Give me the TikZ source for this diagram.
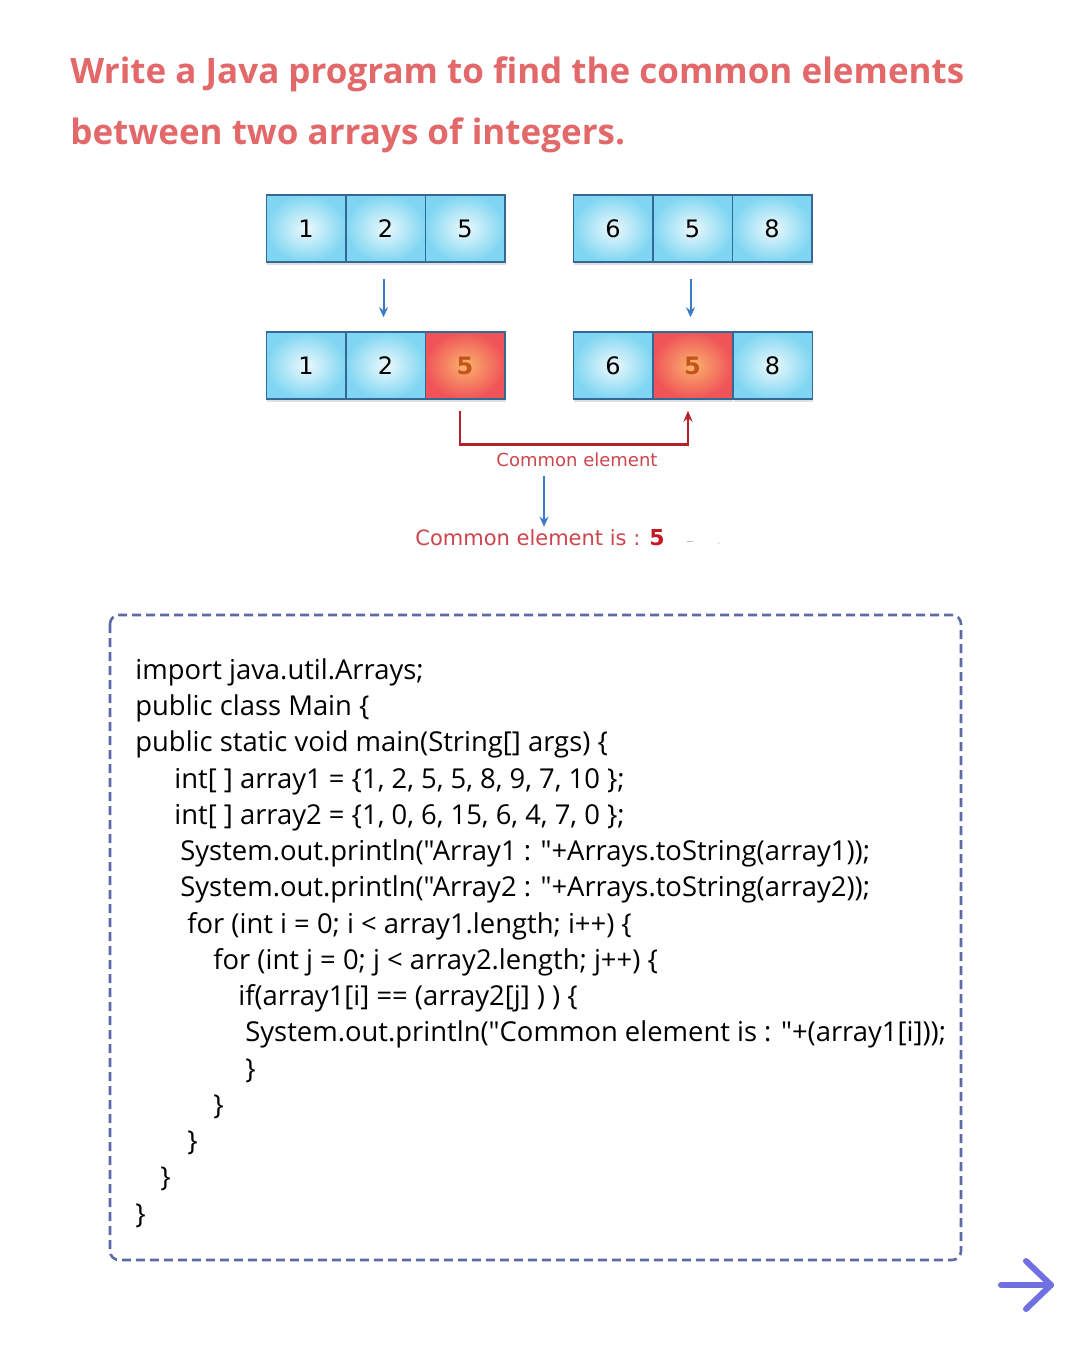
\documentclass[tikz,border=0pt]{standalone}
\usepackage{fontspec}
\setmainfont{Open Sans}
\newfontfamily\cellfont{DejaVu Sans}
\newfontfamily\codefont{Open Sans}
\usetikzlibrary{arrows.meta,shadows}
\definecolor{titlered}{RGB}{226,104,106}
\definecolor{cellblue}{RGB}{128,214,242}
\definecolor{celledge}{RGB}{52,104,150}
\definecolor{hotred}{RGB}{240,84,88}
\definecolor{hotorange}{RGB}{250,178,110}
\definecolor{fivebrown}{RGB}{196,84,24}
\definecolor{flowblue}{RGB}{58,124,200}
\definecolor{linkred}{RGB}{182,32,42}
\definecolor{labelred}{RGB}{206,68,76}
\definecolor{boxslate}{RGB}{92,106,168}
\definecolor{nextblue}{RGB}{112,112,226}
\tikzset{every picture/.style={line width=0.75pt}}
\tikzset{
  cell/.style={draw=celledge, line width=1.5pt, inner color=white!85!cellblue, outer color=cellblue,
    minimum width=79.5pt, minimum height=67pt, inner sep=0pt, font=\cellfont\fontsize{24}{24}\selectfont,
    drop shadow={opacity=0.25, shadow xshift=1pt, shadow yshift=-3pt}},
  hotcell/.style={cell, inner color=hotorange, outer color=hotred, text=fivebrown,
    font=\cellfont\bfseries\fontsize{24}{24}\selectfont},
  flow/.style={draw=flowblue, line width=2pt, -{Stealth[length=10pt,width=9pt]}},
  codeline/.style={anchor=base west, inner sep=0pt, font=\codefont\fontsize{27.4}{27.4}\selectfont}
}
\begin{document}
\begin{tikzpicture}[x=1pt,y=1pt,yscale=-1,xscale=1]
\useasboundingbox (0,0) rectangle (1080,1345);
% title
\draw (70,83) node [anchor=base west][inner sep=0pt][text=titlered] (title1) {\bfseries\fontsize{35}{35}\selectfont Write a Java program to find the common elements};
\draw (70,144) node [anchor=base west][inner sep=0pt][text=titlered] (title2) {\bfseries\fontsize{35}{35}\selectfont between two arrays of integers.};
% arrays before
\draw (306,228.5) node [cell] (a1) {1};
\draw (385.5,228.5) node [cell] (a2) {2};
\draw (465,228.5) node [cell] (a3) {5};
\draw (613,228.5) node [cell] (c1) {6};
\draw (692.5,228.5) node [cell] (c2) {5};
\draw (772,228.5) node [cell] (c3) {8};
% arrays after
\draw (306,365.5) node [cell] (b1) {1};
\draw (385.5,365.5) node [cell] (b2) {2};
\draw (465,365.5) node [hotcell] (b3) {5};
\draw (613,365.5) node [cell] (d1) {6};
\draw (692.5,365.5) node [hotcell] (d2) {5};
\draw (772.5,365.5) node [cell] (d3) {8};
\draw [flow] ([xshift=-2pt,yshift=16pt]a2.south) -- ([xshift=-2pt,yshift=-14pt]b2.north);
\draw [flow] ([xshift=-2pt,yshift=16pt]c2.south) -- ([xshift=-2pt,yshift=-14pt]d2.north);
% link between the common cells
\draw [draw=linkred, line width=2.6pt, -{Stealth[length=11pt,width=9pt]}] ([xshift=-5pt,yshift=11pt]b3.south) -- ++(0,34) -| ([xshift=-4.5pt,yshift=11pt]d2.south);
\draw (577,460) node [inner sep=0.75pt][text=labelred] (common) {\cellfont\fontsize{18}{18}\selectfont Common element};
\draw (540,538) node [inner sep=0.75pt][text=labelred] (result) {\cellfont\fontsize{21}{21}\selectfont Common element is : {\color{linkred!80!red}\bfseries\fontsize{22}{22}\selectfont 5}};
\draw (690,541) node [inner sep=0pt][text=gray!60] (dash1) {\cellfont\fontsize{12}{12}\selectfont \_};
\draw (719,544) node [inner sep=0pt][text=gray!40] (dot1) {\cellfont\fontsize{12}{12}\selectfont .};
\draw [flow] ([xshift=4pt,yshift=8pt]result.north |- common.south) -- ([xshift=4pt,yshift=-2pt]result.north);
% code box
\draw [draw=boxslate, line width=2.6pt, rounded corners=9pt, dash pattern=on 9pt off 5pt] (110,615) rectangle (961,1260);
\draw (135,679) node [codeline] (l1) {import java.util.Arrays;};
\draw (135,715) node [codeline] (l2) {public class Main \{};
\draw (135,751) node [codeline] (l3) {public static void main(String[] args) \{};
\draw (174,788) node [codeline] (l4) {int[ ] array1 = \{1, 2, 5, 5, 8, 9, 7, 10 \};};
\draw (174,824) node [codeline] (l5) {int[ ] array2 = \{1, 0, 6, 15, 6, 4, 7, 0 \};};
\draw (180,860) node [codeline] (l6) {System.out.println("Array1 : "+Arrays.toString(array1));};
\draw (180,896) node [codeline] (l7) {System.out.println("Array2 : "+Arrays.toString(array2));};
\draw (187,933) node [codeline] (l8) {for (int i = 0; i < array1.length; i++) \{};
\draw (213,969) node [codeline] (l9) {for (int j = 0; j < array2.length; j++) \{};
\draw (238,1005) node [codeline] (l10) {if(array1[i] == (array2[j] ) ) \{};
\draw (245,1041) node [codeline] (l11) {System.out.println("Common element is : "+(array1[i]));};
\draw (245,1078) node [codeline] (l12) {\}};
\draw (213,1114) node [codeline] (l13) {\}};
\draw (187,1150) node [codeline] (l14) {\}};
\draw (160,1186) node [codeline] (l15) {\}};
\draw (135,1223) node [codeline] (l16) {\}};
% next arrow
\coordinate (tail) at (1001,1285);
\coordinate (tip) at (1051,1285);
\draw [draw=nextblue, line width=6pt, line cap=round, line join=round] (tail) -- (tip);
\draw [draw=nextblue, line width=6pt, line cap=round, line join=round] ([xshift=-25pt,yshift=24pt]tip) -- (tip) -- ([xshift=-25pt,yshift=-24pt]tip);
\end{tikzpicture}
\end{document}
